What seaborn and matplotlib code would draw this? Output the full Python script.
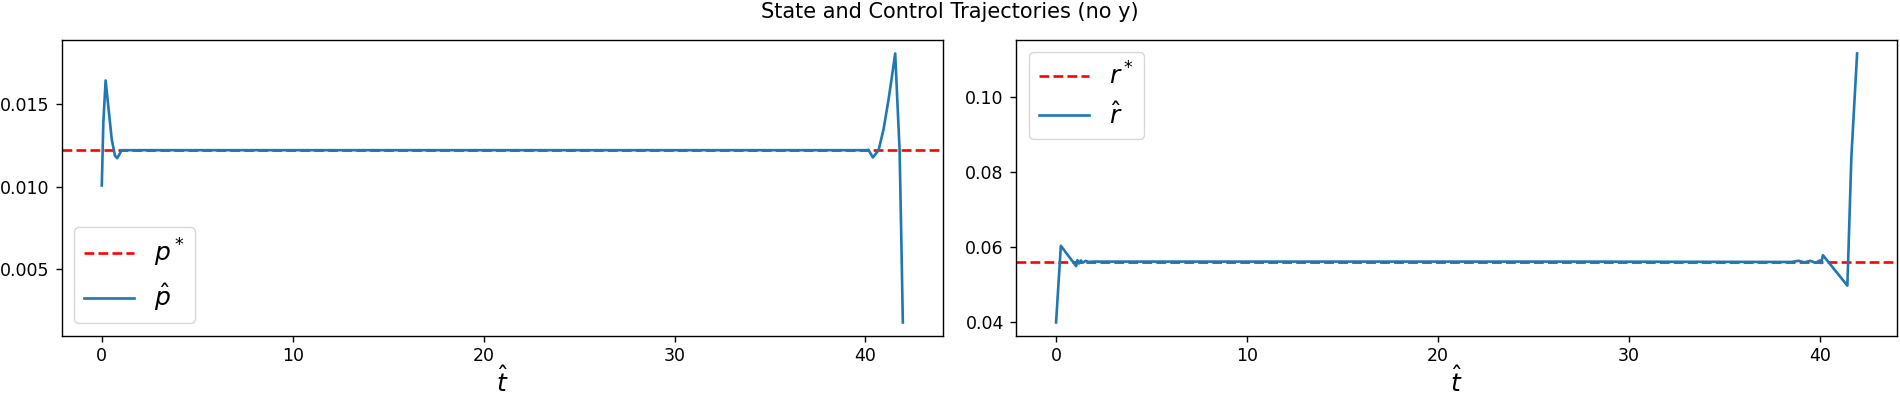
import matplotlib
matplotlib.use("Agg")
import matplotlib.pyplot as plt
import seaborn as sns

# target values
p_star = 0.0122
r_star = 0.0562

# p-hat trajectory
t_p = [0.0, 0.08, 0.20, 0.34, 0.52, 0.69, 0.81, 1.04, 1.3,
       40.0, 40.16, 40.39, 40.69, 40.95, 41.21, 41.39, 41.56, 41.79, 41.88, 41.96]
p_hat = [0.01007, 0.01386, 0.01641, 0.01485, 0.01286, 0.01186, 0.01172, 0.0122, 0.0122,
         0.0122, 0.01222, 0.01176, 0.0122, 0.01346, 0.01525, 0.01665, 0.01804, 0.0122, 0.00688, 0.0018]

# r-hat trajectory
t_r = [0.0, 0.25, 1.05, 1.12, 1.2, 1.3, 1.4, 1.55, 1.7, 1.9,
       27.0, 38.5, 38.9, 39.2, 39.5, 39.8, 40.0, 40.08, 40.17, 41.45, 41.66, 41.96]
r_hat = [0.04, 0.0604, 0.0550, 0.0566, 0.0557, 0.0565, 0.0559, 0.0564, 0.0561, 0.0562,
         0.0562, 0.0561, 0.0564, 0.0560, 0.0564, 0.0559, 0.0565, 0.0558, 0.0579, 0.0498, 0.0841, 0.1116]

blue = "#1f77b4"
plt.rcParams["axes.linewidth"] = 1.0
plt.rcParams["xtick.major.size"] = 4.4
plt.rcParams["ytick.major.size"] = 4.4
plt.rcParams["xtick.major.width"] = 1.0
plt.rcParams["ytick.major.width"] = 1.0
plt.rcParams["xtick.major.pad"] = 3.5
plt.rcParams["ytick.major.pad"] = 4.4

fig, axes = plt.subplots(1, 2, figsize=(19, 3.98), dpi=100)
fig.subplots_adjust(left=0.0325, right=0.9985, top=0.8995, bottom=0.156, wspace=0.083)

ax = axes[0]
ax.axhline(p_star, color="red", linestyle="--", lw=1.9, label=r"$p^*$")
sns.lineplot(x=t_p, y=p_hat, ax=ax, sort=False, estimator=None, color=blue, lw=1.9, label=r"$\hat{p}$")
ax.set_xlabel(r"$\hat{t}$", fontsize=18, labelpad=1)
ax.set_ylabel("")
ax.set_yticks([0.005, 0.010, 0.015])
ax.legend(loc="lower left", fontsize=18)

ax = axes[1]
ax.axhline(r_star, color="red", linestyle="--", lw=1.9, label=r"$r^*$")
sns.lineplot(x=t_r, y=r_hat, ax=ax, sort=False, estimator=None, color=blue, lw=1.9, label=r"$\hat{r}$")
ax.set_xlabel(r"$\hat{t}$", fontsize=18, labelpad=1)
ax.set_ylabel("")
ax.set_yticks([0.04, 0.06, 0.08, 0.10])
ax.legend(loc="upper left", fontsize=18)

for ax in axes:
    ax.tick_params(labelsize=12.5)
    ax.set_xticks([0, 10, 20, 30, 40])

fig.suptitle("State and Control Trajectories (no y)", fontsize=15, y=0.995)
fig.savefig("out.png", dpi=100)
